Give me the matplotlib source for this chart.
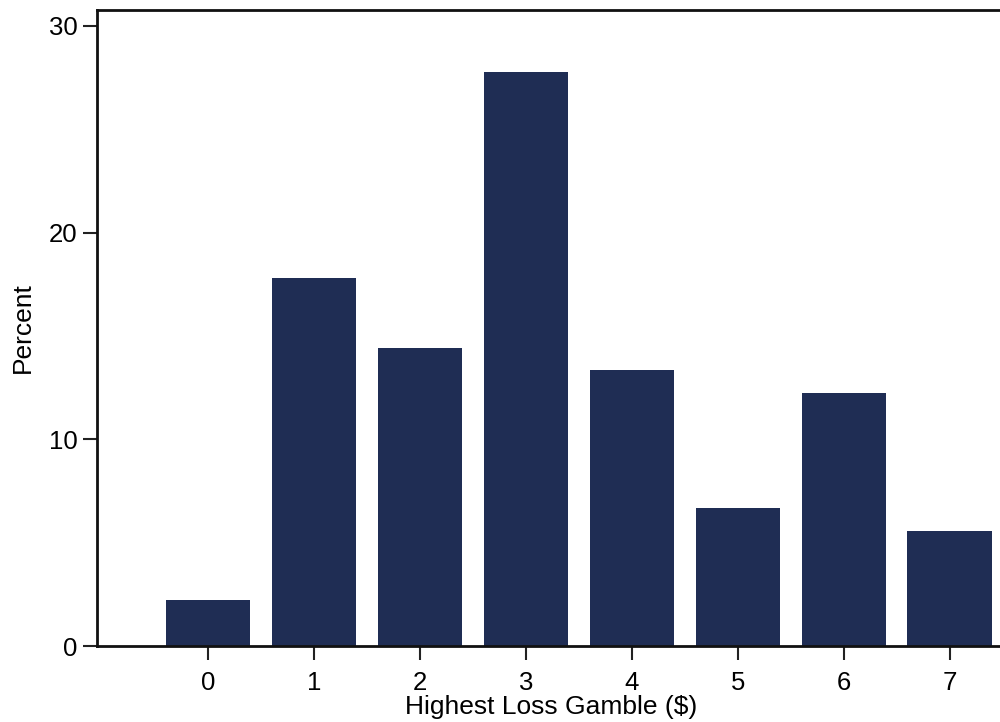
import matplotlib
matplotlib.use("Agg")
import matplotlib.pyplot as plt

categories = [0, 1, 2, 3, 4, 5, 6, 7]
percent = [2.22, 17.78, 14.44, 27.78, 13.33, 6.67, 12.22, 5.56]
yticks = [0, 10, 20, 30]

plt.rcParams['font.family'] = ['Liberation Sans', 'DejaVu Sans']

fig = plt.figure(figsize=(10, 7.22), dpi=100)
W, H = 1000, 722
left, right, top, bottom = 97, 1005, 10, 646
ax = fig.add_axes([left / W, 1 - bottom / H, (right - left) / W, (bottom - top) / H])

ax.bar(categories, percent, width=0.8, color='#1f2d54', zorder=2)

ax.set_xlim(-1.047, 7.52)
ax.set_ylim(0, 30.77)
ax.set_xticks(categories)
ax.set_yticks(yticks)
ax.tick_params(axis='both', labelsize=18.5, length=10, width=1.5, color='#222222')
ax.tick_params(axis='x', pad=8)
ax.tick_params(axis='y', pad=4)

for s in ['left', 'bottom', 'top']:
    ax.spines[s].set_linewidth(2)
    ax.spines[s].set_color('#111111')
ax.spines['right'].set_visible(False)

ax.set_xlabel('Highest Loss Gamble ($)', fontsize=19, labelpad=0)
ax.set_ylabel('Percent', fontsize=19, labelpad=10)

fig.savefig('out.png', dpi=100)
